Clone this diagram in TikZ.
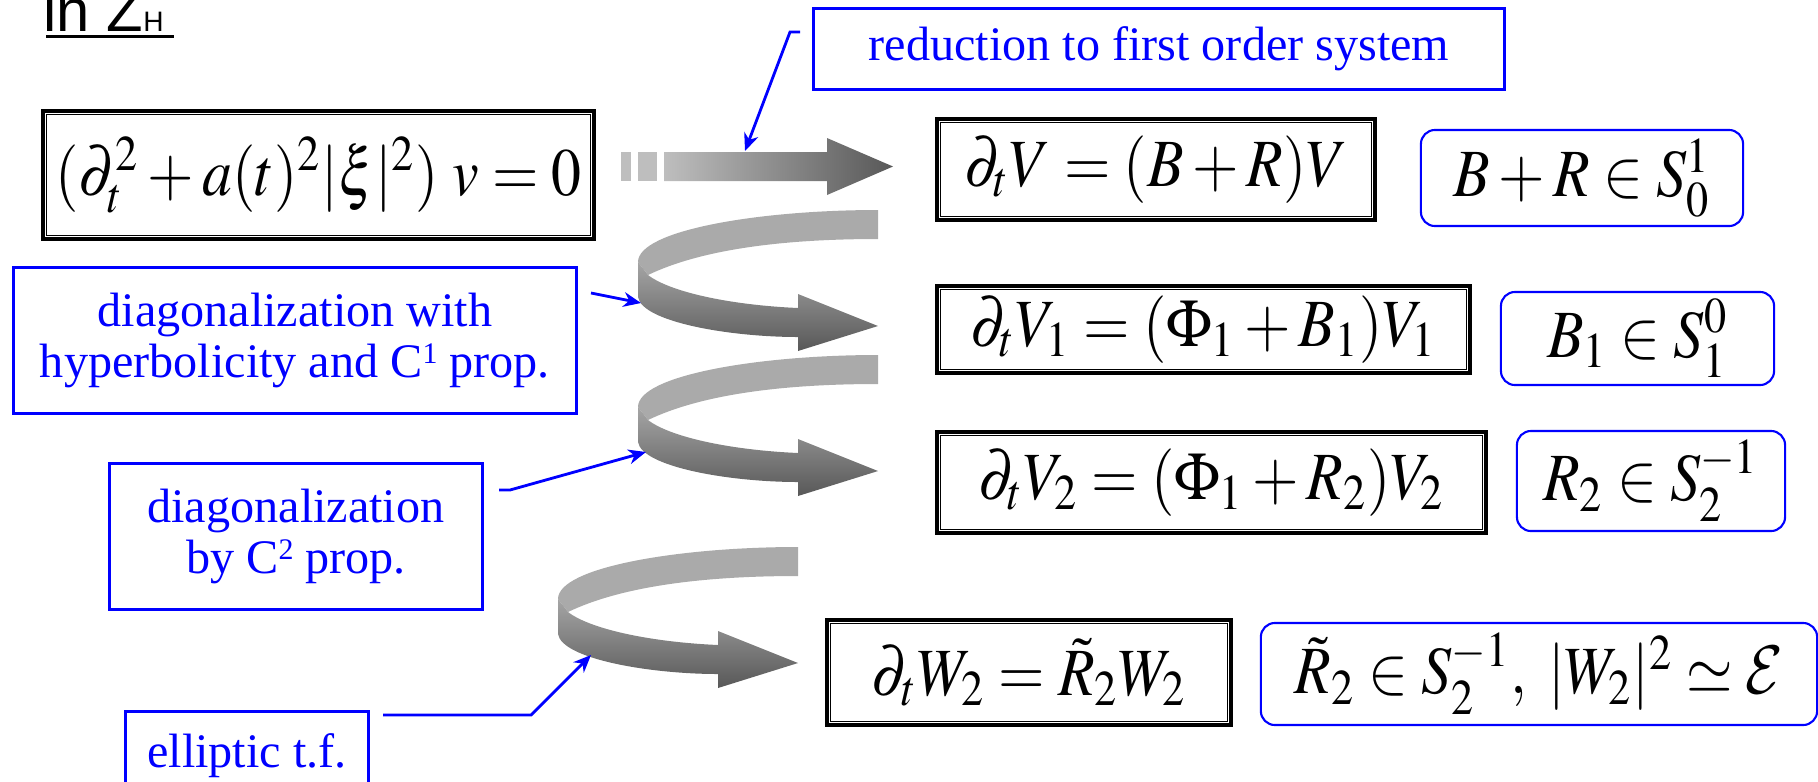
\documentclass[tikz,border=0pt]{standalone}
\usepackage{mathptmx}
\usepackage{graphicx}
\usepackage{fontspec}
\setmainfont{Liberation Serif}
\setsansfont{Liberation Sans}
\usetikzlibrary{arrows.meta,calc}
\DeclareMathAlphabet{\mathcmcal}{OMS}{cmsy}{m}{n}
\definecolor{pblue}{RGB}{0,0,255}
\definecolor{lgray}{RGB}{190,190,190}
\definecolor{dgray}{RGB}{88,88,88}
\definecolor{bandgray}{RGB}{170,170,170}
\definecolor{midgray}{RGB}{165,165,165}
\newcommand\tallmath[1]{\scalebox{1}[1.13]{$#1$}}
\newcommand\supnum[1]{\raisebox{4pt}{\fontsize{8.5}{8.5}\selectfont #1}}
\tikzset{
 eqbox/.style={draw=black, line width=1pt, inner sep=0pt, font=\fontsize{17}{20}\selectfont},
 condbox/.style={draw=pblue, line width=0.6pt, rounded corners=4pt, inner sep=0pt, font=\fontsize{17}{20}\selectfont},
 notebox/.style={draw=pblue, line width=0.85pt, text=pblue, inner sep=0pt, align=center, font=\fontsize{13.7}{14.6}\selectfont},
 leader/.style={draw=pblue, line width=0.8pt, -{Stealth[length=5pt,width=4.2pt,inset=1.6pt]}},
}
\newcommand\myribbon[2]{%
 \begin{scope}[shift={(#1,#2)}]
  \fill[bandgray] (878,210) .. controls (760,210) and (638,230) .. (638,262)
     -- (648,275) .. controls (700,250) and (780,239) .. (878,239) -- cycle;
  \shade[top color=midgray, bottom color=dgray]
     (638,262) -- (638,297) .. controls (642,322) and (730,337) .. (798,337)
     -- (798,351) -- (878,326) -- (798,294) -- (798,308)
     .. controls (730,305) and (670,292) .. (648,275) -- cycle;
 \end{scope}}
\begin{document}
\begin{tikzpicture}[x=0.01cm,y=-0.01cm]
\useasboundingbox (0,0) rectangle (1818,781);
% heading
\node[anchor=base west, inner sep=0pt, font=\sffamily\fontsize{17}{20}\selectfont] (head) at (43,31) {in Z{\fontsize{8}{9}\selectfont H}};
\coordinate (ulA) at (46,36); \coordinate (ulB) at (174,36);
\draw[line width=0.85pt] (ulA) -- (ulB);
% straight arrow
\fill[lgray] (621,152) rectangle (631,181);
\fill[lgray] (638,152) rectangle (657,181);
\shade[left color=lgray, right color=dgray] (664,152) -- (827,152) -- (827,138) -- (893,166.5) -- (827,195) -- (827,181) -- (664,181) -- cycle;
% ribbons
\myribbon{0}{0}
\myribbon{0}{145}
\myribbon{-80}{337}
% equation boxes
\node[eqbox, minimum width=5.51cm, minimum height=1.28cm] (d0) at (318.5,175) {\tallmath{(\partial_t^2 + a(t)^2|\xi|^2)\; v = 0}};
\node[eqbox, minimum width=4.38cm, minimum height=1.01cm] (d1) at (1156,169.5) {\tallmath{\partial_t V = (B+R)V}};
\node[eqbox, minimum width=5.33cm, minimum height=0.87cm] (d2) at (1203.5,329.5) {\tallmath{\partial_t V_1 = (\Phi_1 + B_1)V_1}};
\node[eqbox, minimum width=5.49cm, minimum height=1.01cm] (d3) at (1211.5,482.5) {\tallmath{\partial_t V_2 = (\Phi_1 + R_2)V_2}};
\node[eqbox, minimum width=4.04cm, minimum height=1.05cm] (d4) at (1029,672.5) {\tallmath{\partial_t W_2 = \tilde R_2 W_2}};
\foreach \n in {d0,d1,d2,d3,d4}
  \draw[line width=0.45pt] ([shift={(1.5pt,-1.5pt)}]\n.north west) rectangle ([shift={(-1.5pt,1.5pt)}]\n.south east);
% condition boxes
\node[condbox, minimum width=3.22cm, minimum height=0.96cm] (c1) at (1582,178) {\tallmath{B+R \in S_0^1}};
\node[condbox, minimum width=2.73cm, minimum height=0.93cm] (c2) at (1637.5,338.5) {\tallmath{B_1 \in S_1^0}};
\node[condbox, minimum width=2.68cm, minimum height=1.00cm] (c3) at (1651,481) {\tallmath{R_2 \in S_2^{-1}}};
\node[condbox, minimum width=5.56cm, minimum height=1.02cm] (c4) at (1539,674) {\tallmath{\tilde R_2 \in S_2^{-1},\ |W_2|^2 \simeq \mathcmcal{E}}};
% note boxes
\node[notebox, minimum width=6.90cm, minimum height=0.80cm] (n0) at (1159,49) {reduction to first order system};
\node[notebox, minimum width=5.62cm, minimum height=1.45cm] (n1) at (295,340.5) {diagonalization with\\hyperbolicity and C\supnum{1} prop.};
\node[notebox, minimum width=3.72cm, minimum height=1.45cm] (n2) at (296,536.5) {diagonalization\\by C\supnum{2} prop.};
\node[notebox, minimum width=2.42cm, minimum height=0.88cm] (n3) at (247,756) {elliptic t.f.};
% leaders
\coordinate (a0) at (800,32); \coordinate (a1) at (790,32); \coordinate (a2) at (745,151);
\draw[leader] (a0) -- (a1) -- (a2);
\coordinate (b0) at (591,293); \coordinate (b1) at (641,303);
\draw[leader] (b0) -- (b1);
\coordinate (e0) at (499,490); \coordinate (e1) at (510,490); \coordinate (e2) at (646,452);
\draw[leader] (e0) -- (e1) -- (e2);
\coordinate (f0) at (383,715); \coordinate (f1) at (531,715); \coordinate (f2) at (591,655);
\draw[leader] (f0) -- (f1) -- (f2);
\end{tikzpicture}
\end{document}
